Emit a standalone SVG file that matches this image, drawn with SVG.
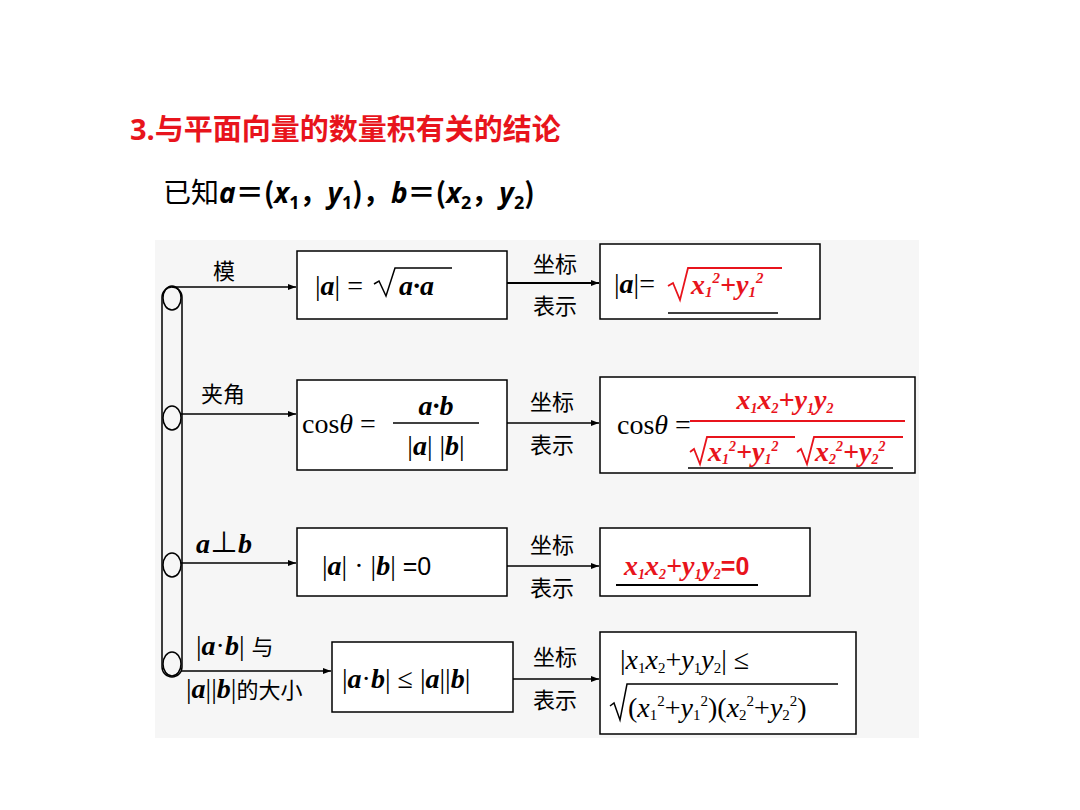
<svg xmlns="http://www.w3.org/2000/svg" width="1080" height="810" viewBox="0 0 1080 810">
<defs>
<marker id="ar" markerWidth="8" markerHeight="6" refX="8" refY="3" orient="auto" markerUnits="userSpaceOnUse"><path d="M0,0L8,3L0,6z" fill="#000"/></marker>
<style>
.bx{fill:#fff;stroke:#000;stroke-width:1.5}
.cn{font-family:"Noto Sans CJK SC",sans-serif;font-size:22px;fill:#000}
.m{font-family:"Liberation Serif","Noto Sans CJK SC",serif;font-size:28px;fill:#000}
.r{fill:#e8141c}
.b{font-weight:bold;font-style:italic}
.ln{stroke:#000;stroke-width:1.5;fill:none}
.rl{stroke:#e8141c;stroke-width:1.8;fill:none}
</style>
</defs>
<rect width="1080" height="810" fill="#fff"/>
<rect x="155" y="240" width="764" height="498" fill="#f6f6f6"/>
<text x="130" y="140" font-family="Open Sans,'Noto Sans CJK SC',sans-serif" font-size="29" font-weight="bold" fill="#e8141c">3.与平面向量的数量积有关的结论</text>
<text x="163" y="203" font-family="'Noto Sans CJK SC',sans-serif" font-size="28" fill="#000">已知<tspan font-family="Open Sans" font-weight="bold" font-style="italic">a</tspan><tspan font-weight="bold">＝(</tspan><tspan font-family="Open Sans" font-weight="bold" font-style="italic">x</tspan><tspan font-family="Open Sans" font-weight="bold" font-size="18" dy="6">1</tspan><tspan dy="-6" font-weight="bold">，</tspan><tspan font-family="Open Sans" font-weight="bold" font-style="italic">y</tspan><tspan font-family="Open Sans" font-weight="bold" font-size="18" dy="6">1</tspan><tspan dy="-6" font-weight="bold">)，</tspan><tspan font-family="Open Sans" font-weight="bold" font-style="italic">b</tspan><tspan font-weight="bold">＝(</tspan><tspan font-family="Open Sans" font-weight="bold" font-style="italic">x</tspan><tspan font-family="Open Sans" font-weight="bold" font-size="18" dy="6">2</tspan><tspan dy="-6" font-weight="bold">，</tspan><tspan font-family="Open Sans" font-weight="bold" font-style="italic">y</tspan><tspan font-family="Open Sans" font-weight="bold" font-size="18" dy="6">2</tspan><tspan dy="-6" font-weight="bold">)</tspan></text>

<g id="trunk">
<rect x="162" y="287" width="20" height="390" rx="10" class="ln" fill="#fff"/>
<ellipse cx="172" cy="298" rx="9" ry="12" class="ln" fill="#fff"/>
<ellipse cx="172" cy="418" rx="9" ry="12" class="ln" fill="#fff"/>
<ellipse cx="172" cy="565" rx="9" ry="12" class="ln" fill="#fff"/>
<ellipse cx="172" cy="664" rx="9" ry="12" class="ln" fill="#fff"/>
</g>

<g id="connectors" stroke="#000" stroke-width="1.3" marker-end="url(#ar)">
<line x1="172" y1="287" x2="296" y2="287"/>
<line x1="181" y1="414" x2="296" y2="414"/>
<line x1="181" y1="563" x2="296" y2="563"/>
<line x1="181" y1="671" x2="331" y2="671"/>
<line x1="507" y1="283" x2="599" y2="283" stroke-width="2"/>
<line x1="507" y1="423" x2="599" y2="423"/>
<line x1="507" y1="566" x2="599" y2="566"/>
<line x1="513" y1="679" x2="599" y2="679"/>
</g>

<g id="labels" class="cn">
<text x="213" y="279">模</text>
<text x="201" y="402">夹角</text>
<text x="533" y="272">坐标</text><text x="533" y="314">表示</text>
<text x="530" y="410">坐标</text><text x="530" y="453">表示</text>
<text x="530" y="553">坐标</text><text x="530" y="596">表示</text>
<text x="533" y="665">坐标</text><text x="533" y="708">表示</text>
<text x="196" y="553" class="m b" font-size="24">a<tspan font-style="normal" font-weight="normal">⊥</tspan>b</text>
<text x="196" y="655" class="m" font-size="26">|<tspan class="b">a</tspan>·<tspan class="b">b</tspan>| <tspan font-family="Noto Sans CJK SC" font-size="22">与</tspan></text>
<text x="186" y="698" class="m" font-size="26">|<tspan class="b">a</tspan>||<tspan class="b">b</tspan>|<tspan font-family="Noto Sans CJK SC" font-size="22">的大小</tspan></text>
</g>

<g id="n1"><rect class="bx" x="297" y="251" width="210" height="68"/>
<text x="315" y="295" class="m" font-size="30">|<tspan class="b">a</tspan>| =</text>
<path d="M374,284 L379,281 L386,296 L395,268 L452,268" class="ln" stroke-width="1.8"/>
<text x="399" y="295" class="m b" font-size="30">a·a</text></g>

<g id="n2"><rect class="bx" x="600" y="244" width="220" height="75"/>
<text x="614" y="293" class="m" font-size="30">|<tspan class="b">a</tspan>|=</text>
<path d="M668,286 L673,283 L680,300 L688,268 L782,268" class="rl"/>
<text x="691" y="294" class="m r b" font-size="24">x<tspan font-size="15" dy="3">1</tspan><tspan font-size="15" dy="-14">2</tspan><tspan dy="11">+y</tspan><tspan font-size="15" dy="3">1</tspan><tspan font-size="15" dy="-14">2</tspan></text>
<line x1="668" y1="313" x2="778" y2="313" class="ln"/></g>

<g id="n3"><rect class="bx" x="297" y="380" width="210" height="90"/>
<text x="302" y="433" class="m" font-size="26">cos<tspan font-style="italic">θ</tspan> =</text>
<text x="436" y="415" class="m b" text-anchor="middle" font-size="30">a·b</text>
<line x1="393" y1="423" x2="479" y2="423" class="ln"/>
<text x="436" y="455" class="m" text-anchor="middle" font-size="30">|<tspan class="b">a</tspan>|  |<tspan class="b">b</tspan>|</text></g>

<g id="n4"><rect class="bx" x="600" y="377" width="315" height="96"/>
<text x="617" y="434" class="m" font-size="26">cos<tspan font-style="italic">θ</tspan> =</text>
<text x="785" y="409" class="m r b" text-anchor="middle" font-size="22">x<tspan font-size="14" dy="4">1</tspan><tspan dy="-4">x</tspan><tspan font-size="14" dy="4">2</tspan><tspan dy="-4">+y</tspan><tspan font-size="14" dy="4">1</tspan><tspan dy="-4">y</tspan><tspan font-size="14" dy="4">2</tspan></text>
<line x1="690" y1="421" x2="905" y2="421" class="rl"/>
<path d="M690,452 L694,449 L700,464 L707,437 L795,437" class="rl"/>
<text x="708" y="461" class="m r b" font-size="22">x<tspan font-size="14" dy="3">1</tspan><tspan font-size="14" dy="-13">2</tspan><tspan dy="10">+y</tspan><tspan font-size="14" dy="3">1</tspan><tspan font-size="14" dy="-13">2</tspan></text>
<path d="M797,452 L801,449 L807,464 L814,437 L903,437" class="rl"/>
<text x="815" y="461" class="m r b" font-size="22">x<tspan font-size="14" dy="3">2</tspan><tspan font-size="14" dy="-13">2</tspan><tspan dy="10">+y</tspan><tspan font-size="14" dy="3">2</tspan><tspan font-size="14" dy="-13">2</tspan></text>
<line x1="688" y1="468" x2="893" y2="468" class="ln"/></g>

<g id="n5"><rect class="bx" x="297" y="528" width="210" height="68"/>
<text x="322" y="575" class="m" font-size="30">|<tspan class="b">a</tspan>| · |<tspan class="b">b</tspan>| <tspan font-family="Liberation Sans" font-size="25">=0</tspan></text></g>

<g id="n6"><rect class="bx" x="600" y="528" width="210" height="68"/>
<text x="624" y="575" class="m r b" font-size="23">x<tspan font-size="14" dy="4">1</tspan><tspan dy="-4">x</tspan><tspan font-size="14" dy="4">2</tspan><tspan dy="-4">+y</tspan><tspan font-size="14" dy="4">1</tspan><tspan dy="-4">y</tspan><tspan font-size="14" dy="4">2</tspan><tspan dy="-4" font-family="Liberation Sans" font-style="normal" font-size="25">=0</tspan></text>
<line x1="616" y1="585" x2="758" y2="585" stroke="#000" stroke-width="2"/></g>

<g id="n7"><rect class="bx" x="332" y="642" width="181" height="70"/>
<text x="342" y="688" class="m" font-size="28">|<tspan class="b">a</tspan>·<tspan class="b">b</tspan>| ≤ |<tspan class="b">a</tspan>||<tspan class="b">b</tspan>|</text></g>

<g id="n8"><rect class="bx" x="600" y="632" width="256" height="102"/>
<text x="620" y="669" class="m" font-size="26">|<tspan font-style="italic">x</tspan><tspan font-size="15" dy="4">1</tspan><tspan font-style="italic" dy="-4">x</tspan><tspan font-size="15" dy="4">2</tspan><tspan dy="-4">+</tspan><tspan font-style="italic">y</tspan><tspan font-size="15" dy="4">1</tspan><tspan font-style="italic" dy="-4">y</tspan><tspan font-size="15" dy="4">2</tspan><tspan dy="-4">| ≤</tspan></text>
<path d="M610,706 L614,703 L620,720 L627,684 L838,684" class="ln" stroke-width="1.3"/>
<text x="628" y="717" class="m" font-size="25">(<tspan font-style="italic">x</tspan><tspan font-size="15" dy="3">1</tspan><tspan font-size="15" dy="-14">2</tspan><tspan dy="11">+</tspan><tspan font-style="italic">y</tspan><tspan font-size="15" dy="3">1</tspan><tspan font-size="15" dy="-14">2</tspan><tspan dy="11">)(</tspan><tspan font-style="italic">x</tspan><tspan font-size="15" dy="3">2</tspan><tspan font-size="15" dy="-14">2</tspan><tspan dy="11">+</tspan><tspan font-style="italic">y</tspan><tspan font-size="15" dy="3">2</tspan><tspan font-size="15" dy="-14">2</tspan><tspan dy="11">)</tspan></text>
</g>
</svg>
